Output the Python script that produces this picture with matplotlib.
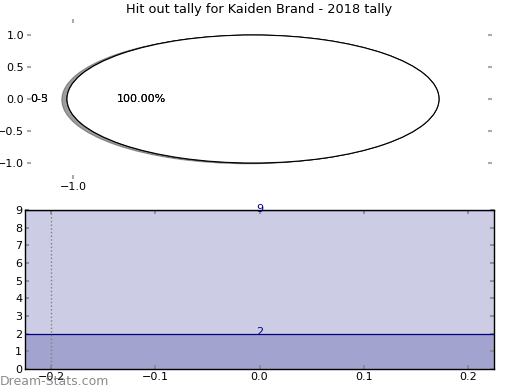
import matplotlib
matplotlib.use("Agg")
import matplotlib.pyplot as plt

# pie data
pie_labels_a = ["0-5"]
pie_labels_b = ["0-3"]
pie_values = [2]

# tally bands
band_tops = [9, 2]
band_x = [-0.225, 0.225]
marker_x = -0.2

title = "Hit out tally for Kaiden Brand - 2018 tally"
navy = "#000080"

fig = plt.figure(figsize=(5.2, 3.9), dpi=100)

# top: pie (drawn twice, labels overlap as in the original)
ax1 = fig.add_axes([27 / 520, 1 - 179 / 390, 465 / 520, 160 / 390])
for i, labs in enumerate((pie_labels_a, pie_labels_b)):
    shadow = {'ox': -0.02, 'oy': -0.008, 'alpha': 0.55} if i == 0 else False
    ax1.pie(pie_values, labels=labs, autopct='%.2f%%', explode=[0.035],
            shadow=shadow, colors=['white'], startangle=0,
            wedgeprops={'edgecolor': 'black', 'linewidth': 0.8},
            textprops={'fontsize': 8}, frame=True)
ax1.set_aspect('auto')
ax1.set_xlim(-1.25, 1.25)
ax1.set_ylim(-1.25, 1.25)
ax1.set_xticks([-1.0])
ax1.set_xticklabels(["\u22121.0"])
ax1.set_yticks([-1.0, -0.5, 0.0, 0.5, 1.0])
ax1.set_yticklabels(["\u22121.0", "\u22120.5", "0.0", "0.5", "1.0"])
for s in ax1.spines.values():
    s.set_visible(False)
ax1.tick_params(direction='in', color='#aaaaaa', length=3, width=1.5,
                top=True, right=True, labelsize=8, pad=2)
ax1.set_title(title, fontsize=9.3, pad=4)

# bottom: bands
ax2 = fig.add_axes([25 / 520, 1 - 369 / 390, 469 / 520, 159 / 390])
for top in band_tops:
    ax2.fill_between(band_x, 0, top, color=navy, alpha=0.2, linewidth=0)
    ax2.plot(band_x, [top, top], color=navy, linewidth=0.9)
    ax2.annotate(str(top), (0, top), xytext=(0, 1), textcoords='offset points',
                 color=navy, ha='center', va='center', fontsize=8,
                 annotation_clip=False)
ax2.axvline(marker_x, color='gray', linestyle=':', linewidth=1)
ax2.set_xlim(band_x[0], band_x[1])
ax2.set_ylim(0, 9)
ax2.set_yticks(range(0, 10))
ax2.set_xticks([-0.2, -0.1, 0.0, 0.1, 0.2])
ax2.set_xticklabels(["\u22120.2", "\u22120.1", "0.0", "0.1", "0.2"])
ax2.tick_params(direction='in', color='#888888', length=3, width=1.2,
                top=True, right=True, labelsize=8, pad=2)
for s in ax2.spines.values():
    s.set_linewidth(1)

fig.text(0.0, 0.005, "Dream-Stats.com", color='#777777', alpha=0.85,
         fontsize=9, ha='left', va='bottom', zorder=0)

fig.savefig("out.png", dpi=100)
